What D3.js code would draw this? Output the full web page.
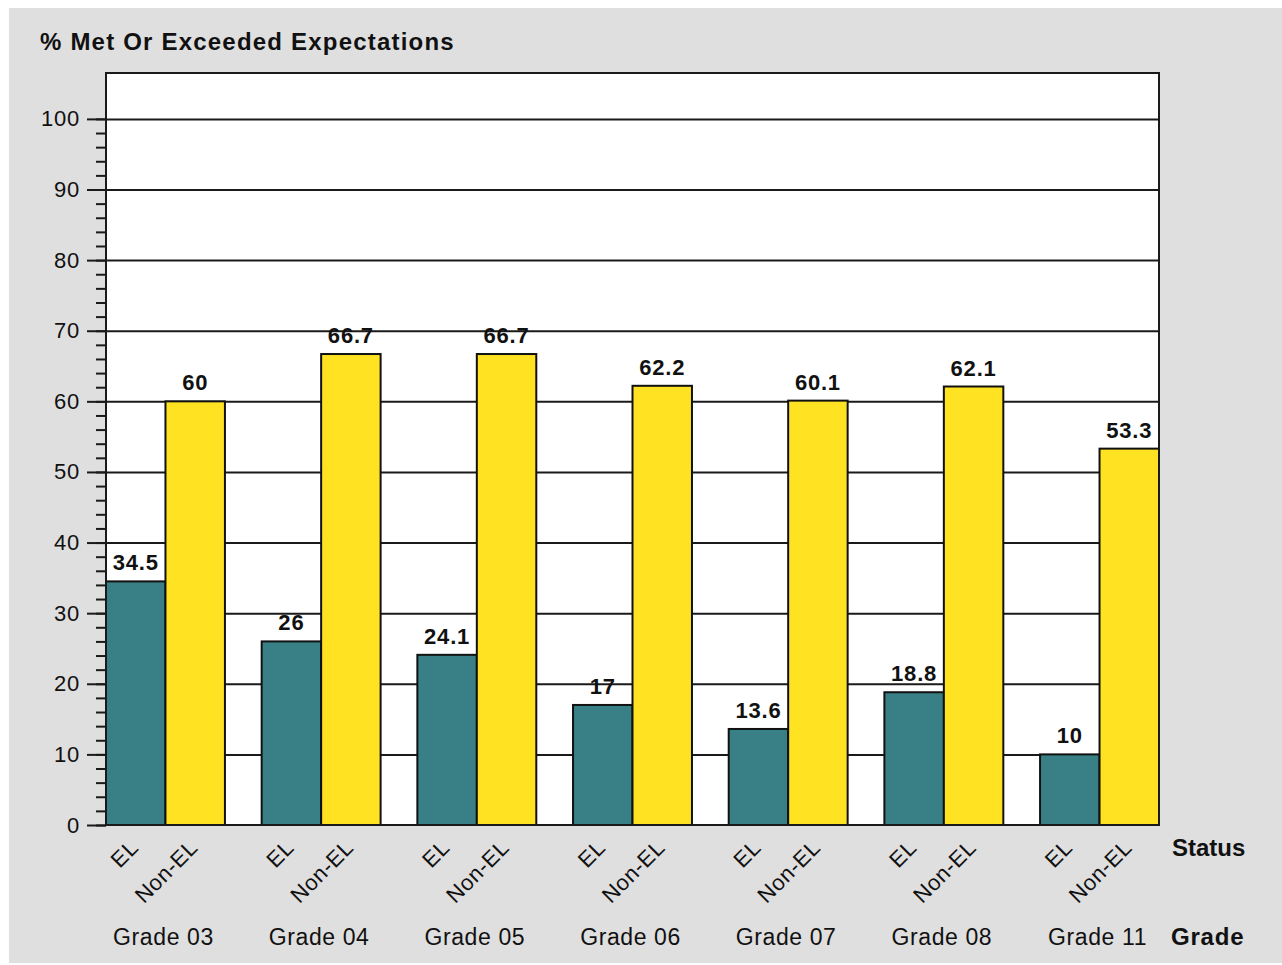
<!DOCTYPE html>
<html>
<head>
<meta charset="utf-8">
<script src="https://cdn.jsdelivr.net/npm/d3@7"></script>
<style>
  html, body { margin: 0; padding: 0; background: #ffffff; }
  svg { display: block; font-family: "Liberation Sans", Arial, sans-serif; }
</style>
</head>
<body>
<svg id="chart" width="1282" height="965"></svg>
<script>
const grades = ["Grade 03", "Grade 04", "Grade 05", "Grade 06", "Grade 07", "Grade 08", "Grade 11"];
const statuses = ["EL", "Non-EL"];
const elValues = [34.5, 26, 24.1, 17, 13.6, 18.8, 10];
const nonElValues = [60, 66.7, 66.7, 62.2, 60.1, 62.1, 53.3];
const yTickValues = [0, 10, 20, 30, 40, 50, 60, 70, 80, 90, 100];
const yMinorTickValues = d3.range(0, 101, 2);
const titleText = "% Met Or Exceeded Expectations";
const statusTitle = "Status";
const gradeTitle = "Grade";

const colors = { "EL": "#398086", "Non-EL": "#ffe322" };

const data = grades.map((g, i) => ({
  grade: g,
  values: [
    { status: "EL", value: elValues[i] },
    { status: "Non-EL", value: nonElValues[i] }
  ]
}));

const svg = d3.select("#chart");
const W = 1282, H = 965;
const plot = { left: 106, right: 1159, top: 73, bottom: 825 };

// background panel
svg.append("rect").attr("x", 9).attr("y", 8).attr("width", W - 9).attr("height", 955).attr("fill", "#dfdfdf");

const x0 = d3.scaleBand().domain(grades).range([plot.left, plot.right]).paddingInner(0.236).paddingOuter(0);
const x1 = d3.scaleBand().domain(statuses).range([0, x0.bandwidth()]).padding(0);
const y = d3.scaleLinear().domain([0, 106.5]).range([plot.bottom, plot.top]);

// plot background
svg.append("rect").attr("x", plot.left).attr("y", plot.top)
  .attr("width", plot.right - plot.left).attr("height", plot.bottom - plot.top)
  .attr("fill", "#ffffff");

// gridlines
const grid = svg.append("g").attr("transform", `translate(${plot.left},0)`)
  .call(d3.axisLeft(y).tickValues(yTickValues.filter(v => v > 0)).tickSize(-(plot.right - plot.left)).tickFormat(""));
grid.select(".domain").remove();
grid.selectAll("line").attr("stroke", "#1a1a1a").attr("stroke-width", 2);

// bars
const groups = svg.append("g").selectAll("g").data(data).join("g")
  .attr("transform", d => `translate(${x0(d.grade)},0)`);
groups.selectAll("rect").data(d => d.values).join("rect")
  .attr("x", d => x1(d.status))
  .attr("y", d => y(d.value))
  .attr("width", x1.bandwidth())
  .attr("height", d => y(0) - y(d.value))
  .attr("fill", d => colors[d.status])
  .attr("stroke", "#111")
  .attr("stroke-width", 2);

// value labels
groups.selectAll("text.val").data(d => d.values).join("text")
  .attr("class", "val")
  .attr("x", d => x1(d.status) + x1.bandwidth() / 2)
  .attr("y", d => y(d.value) - 11)
  .attr("text-anchor", "middle")
  .attr("font-size", 22).attr("font-weight", "bold")
  .attr("letter-spacing", 0.8)
  .attr("fill", "#111")
  .text(d => d.value);

// plot border
svg.append("rect").attr("x", plot.left).attr("y", plot.top)
  .attr("width", plot.right - plot.left).attr("height", plot.bottom - plot.top)
  .attr("fill", "none").attr("stroke", "#1a1a1a").attr("stroke-width", 2);

// y axis minor ticks
const minor = svg.append("g").attr("transform", `translate(${plot.left},0)`)
  .call(d3.axisLeft(y).tickValues(yMinorTickValues).tickSize(10).tickFormat(""));
minor.select(".domain").remove();
minor.selectAll("line").attr("stroke", "#1a1a1a").attr("stroke-width", 2);

// y axis major ticks
const yAxis = svg.append("g").attr("transform", `translate(${plot.left},0)`)
  .call(d3.axisLeft(y).tickValues(yTickValues).tickSize(19).tickPadding(7).tickFormat(d3.format("d")));
yAxis.select(".domain").remove();
yAxis.selectAll("line").attr("stroke", "#1a1a1a").attr("stroke-width", 2);
yAxis.selectAll("text").attr("font-size", 22).attr("fill", "#111")
  .attr("font-family", "'Liberation Sans', Arial, sans-serif").attr("letter-spacing", 0.8);

// x category labels
const labelG = svg.append("g");
data.forEach(d => {
  d.values.forEach(v => {
    const cx = x0(d.grade) + x1(v.status) + x1.bandwidth() / 2 + 4;
    labelG.append("text")
      .attr("transform", `translate(${cx},${plot.bottom + 24}) rotate(-45)`)
      .attr("text-anchor", "end")
      .attr("font-size", 22).attr("fill", "#111").attr("letter-spacing", 0.6)
      .text(v.status);
  });
});
labelG.selectAll("text.grade").data(grades).join("text")
  .attr("class", "grade")
  .attr("x", g => x0(g) + x0.bandwidth() / 2 - 2)
  .attr("y", 945)
  .attr("text-anchor", "middle")
  .attr("font-size", 23).attr("fill", "#111").attr("letter-spacing", 0.6)
  .text(g => g);

// axis titles
svg.append("text").attr("x", 1172).attr("y", 856)
  .attr("font-size", 24).attr("font-weight", "bold").attr("fill", "#111")
  .text(statusTitle);
svg.append("text").attr("x", 1171).attr("y", 945)
  .attr("font-size", 24).attr("font-weight", "bold").attr("fill", "#111").attr("letter-spacing", 0.8)
  .text(gradeTitle);

// chart title
svg.append("text").attr("x", 40).attr("y", 50)
  .attr("font-size", 24).attr("font-weight", "bold").attr("fill", "#111").attr("letter-spacing", 1.2)
  .text(titleText);
</script>
</body>
</html>
